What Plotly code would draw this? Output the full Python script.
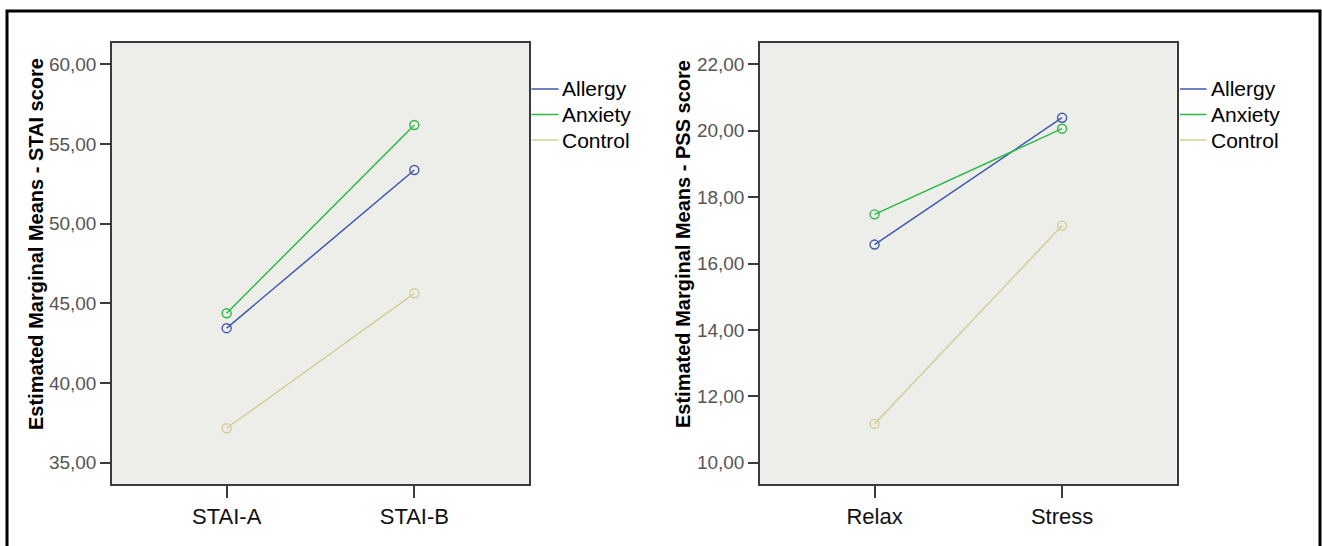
import plotly.graph_objects as go

# ---- data ----
groups = ["Allergy", "Anxiety", "Control"]
colors = ["#3E58AC", "#2EB848", "#D3CE97"]

stai_cats = ["STAI-A", "STAI-B"]
stai_allergy = [43.44, 53.37]
stai_anxiety = [44.38, 56.19]
stai_control = [37.16, 45.63]

pss_cats = ["Relax", "Stress"]
pss_allergy = [16.57, 20.39]
pss_anxiety = [17.48, 20.06]
pss_control = [11.17, 17.14]

stai_ticks = [35, 40, 45, 50, 55, 60]
stai_ticktext = ["35,00", "40,00", "45,00", "50,00", "55,00", "60,00"]
pss_ticks = [10, 12, 14, 16, 18, 20, 22]
pss_ticktext = ["10,00", "12,00", "14,00", "16,00", "18,00", "20,00", "22,00"]

stai_title = "Estimated Marginal Means - STAI score"
pss_title = "Estimated Marginal Means - PSS score"

W, H = 1322, 546
FONT = "Arial, Liberation Sans, sans-serif"

fig = go.Figure()

stai_series = [stai_allergy, stai_anxiety, stai_control]
pss_series = [pss_allergy, pss_anxiety, pss_control]

for name, col, vals in zip(groups, colors, stai_series):
    fig.add_trace(go.Scatter(
        x=[0, 1], y=vals, mode="lines+markers", name=name,
        line=dict(color=col, width=1.5),
        marker=dict(symbol="circle-open", size=9, color=col, line=dict(width=1.4, color=col)),
        xaxis="x", yaxis="y", showlegend=False, hoverinfo="skip"))

for name, col, vals in zip(groups, colors, pss_series):
    fig.add_trace(go.Scatter(
        x=[0, 1], y=vals, mode="lines+markers", name=name,
        line=dict(color=col, width=1.5),
        marker=dict(symbol="circle-open", size=9, color=col, line=dict(width=1.4, color=col)),
        xaxis="x2", yaxis="y2", showlegend=False, hoverinfo="skip"))


def px_x(p):
    return p / W


def px_y(p):
    return 1 - p / H


ydom = [px_y(484), px_y(43)]
common_x = dict(
    showgrid=False, zeroline=False, showline=True, mirror=True,
    linecolor="#3a3a3a", linewidth=1.5, ticks="outside", ticklen=12,
    tickcolor="#3a3a3a", tickwidth=1.5,
    tickfont=dict(family=FONT, size=22, color="#111111"),
    range=[-0.611, 1.611], fixedrange=True,
)
common_y = dict(
    showgrid=False, zeroline=False, showline=True, mirror=True,
    linecolor="#3a3a3a", linewidth=1.5, ticks="outside", ticklen=10,
    tickcolor="#3a3a3a", tickwidth=1.5,
    tickfont=dict(family=FONT, size=19, color="#555555"),
    fixedrange=True,
)

shapes = [dict(type="rect", xref="paper", yref="paper",
               x0=px_x(7), x1=px_x(1320), y0=-0.02, y1=px_y(11),
               line=dict(color="black", width=3), fillcolor="rgba(0,0,0,0)", layer="above")]
annotations = []

# y-axis titles
for cx, txt in [(36, stai_title), (683, pss_title)]:
    annotations.append(dict(
        xref="paper", yref="paper", x=px_x(cx), y=px_y(244),
        xanchor="center", yanchor="middle", text="<b>" + txt + "</b>",
        textangle=-90, showarrow=False,
        font=dict(family=FONT, size=20, color="black")))

# legends (drawn as line keys + labels)
leg_rows = [89, 114.5, 140]
for lx0, lx1, tx in [(531.5, 558.5, 560), (1180, 1206.5, 1209)]:
    for name, col, ry in zip(groups, colors, leg_rows):
        shapes.append(dict(type="line", xref="paper", yref="paper",
                           x0=px_x(lx0), x1=px_x(lx1), y0=px_y(ry), y1=px_y(ry),
                           line=dict(color=col, width=1.5)))
        annotations.append(dict(
            xref="paper", yref="paper", x=px_x(tx), y=px_y(ry),
            xanchor="left", yanchor="middle", text=name, showarrow=False,
            font=dict(family=FONT, size=21, color="black")))

fig.update_layout(
    width=W, height=H,
    margin=dict(l=0, r=0, t=0, b=0),
    paper_bgcolor="white",
    plot_bgcolor="#EDEDE9",
    font=dict(family=FONT),
    showlegend=False,
    xaxis=dict(domain=[px_x(112), px_x(529)], tickvals=[0, 1], ticktext=stai_cats,
               anchor="y", **common_x),
    yaxis=dict(domain=ydom, range=[33.66, 61.34], tickvals=stai_ticks, ticktext=stai_ticktext,
               anchor="x", **common_y),
    xaxis2=dict(domain=[px_x(760), px_x(1176.7)], tickvals=[0, 1], ticktext=pss_cats,
                anchor="y2", **common_x),
    yaxis2=dict(domain=ydom, range=[9.36, 22.64], tickvals=pss_ticks, ticktext=pss_ticktext,
                anchor="x2", **common_y),
    shapes=shapes,
    annotations=annotations,
)

fig.write_html("out.html")
